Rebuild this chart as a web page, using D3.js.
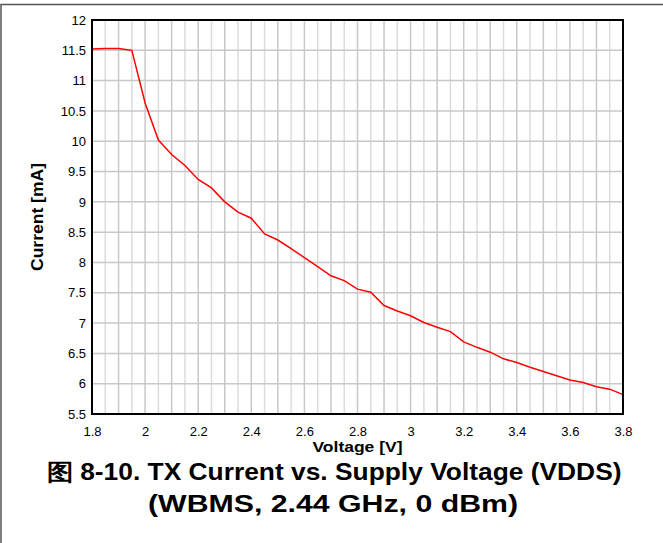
<!DOCTYPE html>
<html lang="en">
<head>
    <meta charset="UTF-8">
    <title>TX Current vs. Supply Voltage</title>
    <style>
        body { margin: 0; background: #fff; }
        text { font-family: "Liberation Sans", Arial, sans-serif; }
    </style>
</head>
<body>

<script src="https://d3js.org/d3.v7.min.js"></script>
<script>
    // supply voltage [V]
    var voltage = [1.8, 1.85, 1.9, 1.95, 2.0, 2.05, 2.1, 2.15, 2.2, 2.25, 2.3, 2.35, 2.4, 2.45,
                   2.5, 2.55, 2.6, 2.65, 2.7, 2.75, 2.8, 2.85, 2.9, 2.95, 3.0, 3.05, 3.1, 3.15,
                   3.2, 3.25, 3.3, 3.35, 3.4, 3.45, 3.5, 3.55, 3.6, 3.65, 3.7, 3.75, 3.8];
    // TX current [mA]
    var current = [11.52, 11.53, 11.53, 11.5, 10.63, 10.02, 9.78, 9.6, 9.37, 9.23, 9.0, 8.83, 8.73, 8.47,
                   8.37, 8.23, 8.08, 7.93, 7.78, 7.7, 7.56, 7.51, 7.29, 7.2, 7.12, 7.01, 6.93, 6.86,
                   6.69, 6.6, 6.52, 6.41, 6.35, 6.27, 6.2, 6.13, 6.06, 6.02, 5.95, 5.91, 5.82];

    var xTicks = [1.8, 2, 2.2, 2.4, 2.6, 2.8, 3, 3.2, 3.4, 3.6, 3.8];
    var yTicks = [5.5, 6, 6.5, 7, 7.5, 8, 8.5, 9, 9.5, 10, 10.5, 11, 11.5, 12];

    var W = 663, H = 543;
    var margin = {top: 20, right: 40, bottom: 129, left: 92},
        width = 623 - margin.left,
        height = 414 - margin.top;

    var x = d3.scaleLinear().domain([1.8, 3.8]).range([0, width]);
    var y = d3.scaleLinear().domain([5.5, 12]).range([height, 0]);

    var svg = d3.select('body').append('svg')
        .attr('width', W)
        .attr('height', H);

    // page frame
    svg.append('path')
        .attr('d', 'M1,' + H + 'V4.5H' + W)
        .attr('fill', 'none')
        .attr('stroke', '#555')
        .attr('stroke-width', 1.5);

    var g = svg.append('g')
        .attr('transform', `translate(${margin.left}, ${margin.top})`);

    // vertical grid every 0.05 V, darker on 0.1 V
    var vGrid = d3.range(1, 40).map(function(i) { return 1.8 + i * 0.05; });
    g.append('g').selectAll('line')
        .data(vGrid)
      .enter().append('line')
        .attr('x1', function(d) { return x(d); })
        .attr('x2', function(d) { return x(d); })
        .attr('y1', 0)
        .attr('y2', height)
        .attr('stroke', function(d, i) { return i % 2 === 0 ? '#dcdcdc' : '#c8c8c8'; })
        .attr('stroke-width', 1.5);

    g.append('g').selectAll('line')
        .data(yTicks.slice(1, -1))
      .enter().append('line')
        .attr('x1', 0)
        .attr('x2', width)
        .attr('y1', function(d) { return y(d); })
        .attr('y2', function(d) { return y(d); })
        .attr('stroke', '#c8c8c8')
        .attr('stroke-width', 1.5);

    var line = d3.line()
        .x(function(d, i) { return x(voltage[i]); })
        .y(function(d) { return y(d); });

    g.append('path')
        .datum(current)
        .attr('d', line)
        .attr('fill', 'none')
        .attr('stroke', '#ff0000')
        .attr('stroke-width', 1.5);

    g.append('rect')
        .attr('width', width)
        .attr('height', height)
        .attr('fill', 'none')
        .attr('stroke', '#000')
        .attr('stroke-width', 2);

    // axes
    var xAxis = d3.axisBottom(x).tickValues(xTicks).tickSize(0).tickPadding(13)
        .tickFormat(function(d) { return d3.format('')(d); });
    var yAxis = d3.axisLeft(y).tickValues(yTicks).tickSize(0).tickPadding(6)
        .tickFormat(function(d) { return d3.format('')(d); });

    var gx = g.append('g')
        .attr('transform', `translate(0, ${height})`)
        .call(xAxis);
    var gy = g.append('g').call(yAxis);

    [gx, gy].forEach(function(a) {
        a.select('.domain').remove();
        a.selectAll('text')
            .attr('fill', '#000')
            .style('font-size', '13px')
            .style('font-family', '"Liberation Sans", Arial, sans-serif');
    });

    svg.append('text')
        .attr('x', margin.left + width / 2)
        .attr('y', 452)
        .attr('text-anchor', 'middle')
        .attr('textLength', 90)
        .attr('lengthAdjust', 'spacingAndGlyphs')
        .style('font-size', '15px')
        .style('font-weight', 'bold')
        .text('Voltage [V]');

    svg.append('text')
        .attr('transform', `translate(43, ${margin.top + height / 2}) rotate(-90)`)
        .attr('text-anchor', 'middle')
        .attr('textLength', 108)
        .attr('lengthAdjust', 'spacingAndGlyphs')
        .style('font-size', '16px')
        .style('font-weight', 'bold')
        .text('Current [mA]');

    // caption
    var cap = svg.append('g')
        .attr('text-anchor', 'middle')
        .style('font-size', '23px')
        .style('font-weight', 'bold');
    cap.append('text')
        .attr('x', 334)
        .attr('y', 480)
        .attr('textLength', 575)
        .attr('lengthAdjust', 'spacingAndGlyphs')
        .text('图 8-10. TX Current vs. Supply Voltage (VDDS)');
    cap.append('text')
        .attr('x', 333)
        .attr('y', 512)
        .attr('textLength', 370)
        .attr('lengthAdjust', 'spacingAndGlyphs')
        .text('(WBMS, 2.44 GHz, 0 dBm)');
</script>
</body>
</html>
